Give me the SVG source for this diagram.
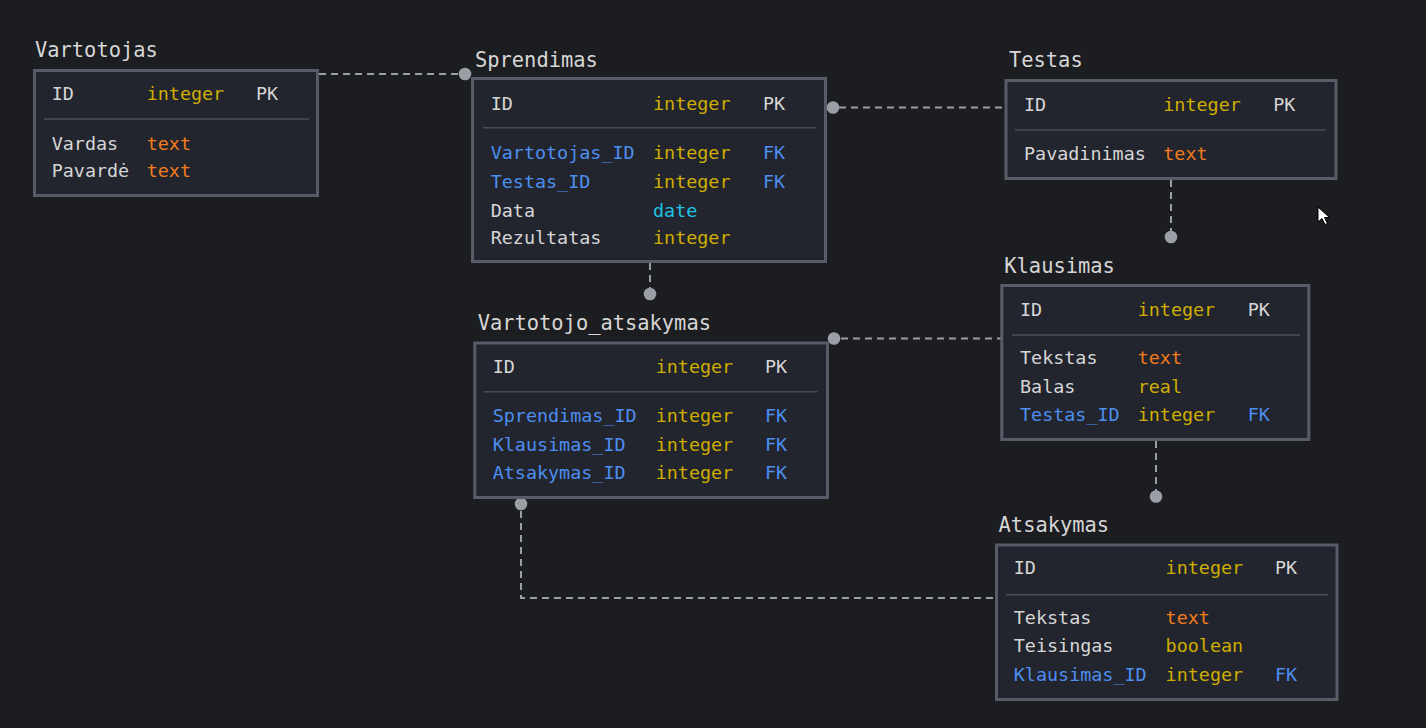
<svg xmlns="http://www.w3.org/2000/svg" width="1426" height="728" viewBox="0 0 1426 728">
<style>
.box{fill:#22252d;stroke:#595c68;stroke-width:3}
.sep{stroke:#494c56;stroke-width:1.5}
.title{font-family:"DejaVu Sans Mono","Liberation Mono",monospace;font-size:20.4px;fill:#d6d6d6}
.t{font-family:"DejaVu Sans Mono","Liberation Mono",monospace;font-size:18.4px}
.w{fill:#d6d6d6}
.b{fill:#4d8ef0}
.y{fill:#cfae00}
.o{fill:#f27b1c}
.c{fill:#1fc2e4}
.con{fill:none;stroke:#9c9ea5;stroke-width:2;stroke-dasharray:7 5}
.dot{fill:#9c9ea5}
</style>
<rect width="1426" height="728" fill="#1c1d21"/>
<g id="connectors">
<line class="con" x1="319" y1="74" x2="465" y2="74"/>
<circle class="dot" cx="465" cy="74" r="6.3"/>
<line class="con" x1="827" y1="107.5" x2="1005" y2="107.5"/>
<circle class="dot" cx="833" cy="107.5" r="6.3"/>
<line class="con" x1="1171" y1="180" x2="1171" y2="237"/>
<circle class="dot" cx="1171" cy="237" r="6.3"/>
<line class="con" x1="650" y1="263" x2="650" y2="294"/>
<circle class="dot" cx="650" cy="294" r="6.3"/>
<line class="con" x1="829" y1="338.5" x2="1001" y2="338.5"/>
<circle class="dot" cx="834" cy="338.5" r="6.3"/>
<line class="con" x1="1156" y1="441" x2="1156" y2="496.5"/>
<circle class="dot" cx="1156" cy="496.5" r="6.3"/>
<path class="con" d="M521 499 V598 H995"/>
<circle class="dot" cx="521" cy="504" r="6.3"/>
</g>
<g id="Vartotojas">
<text class="title" x="35" y="56.7">Vartotojas</text>
<rect class="box" x="34.5" y="70.5" width="283" height="125"/>
<line class="sep" x1="44" y1="119" x2="309" y2="119"/>
<g class="t">
<text class="w" x="51.7" y="100">ID</text><text class="y" x="146.7" y="100">integer</text><text class="w" x="256" y="100">PK</text>
<text class="w" x="51.7" y="150">Vardas</text><text class="o" x="146.7" y="150">text</text>
<text class="w" x="51.7" y="177">Pavardė</text><text class="o" x="146.7" y="177">text</text>
</g>
</g>
<g id="Sprendimas">
<text class="title" x="475" y="66.7">Sprendimas</text>
<rect class="box" x="472.5" y="78.5" width="353" height="183"/>
<line class="sep" x1="483" y1="127.7" x2="816" y2="127.7"/>
<g class="t">
<text class="w" x="490.7" y="110">ID</text><text class="y" x="653" y="110">integer</text><text class="w" x="763" y="110">PK</text>
<text class="b" x="490.7" y="159">Vartotojas_ID</text><text class="y" x="653" y="159">integer</text><text class="b" x="763" y="159">FK</text>
<text class="b" x="490.7" y="187.7">Testas_ID</text><text class="y" x="653" y="187.7">integer</text><text class="b" x="763" y="187.7">FK</text>
<text class="w" x="490.7" y="216.7">Data</text><text class="c" x="653" y="216.7">date</text>
<text class="w" x="490.7" y="244.3">Rezultatas</text><text class="y" x="653" y="244.3">integer</text>
</g>
</g>
<g id="Testas">
<text class="title" x="1009" y="66.7">Testas</text>
<rect class="box" x="1006" y="80.5" width="330" height="98"/>
<line class="sep" x1="1015" y1="130" x2="1326" y2="130"/>
<g class="t">
<text class="w" x="1024" y="110.7">ID</text><text class="y" x="1163.3" y="110.7">integer</text><text class="w" x="1273.3" y="110.7">PK</text>
<text class="w" x="1024" y="160">Pavadinimas</text><text class="o" x="1163.3" y="160">text</text>
</g>
</g>
<g id="Vartotojo_atsakymas">
<text class="title" x="477.7" y="330">Vartotojo_atsakymas</text>
<rect class="box" x="474.8" y="343" width="352.7" height="154.5"/>
<line class="sep" x1="484" y1="391.7" x2="817.3" y2="391.7"/>
<g class="t">
<text class="w" x="492.7" y="372.7">ID</text><text class="y" x="655.7" y="372.7">integer</text><text class="w" x="765" y="372.7">PK</text>
<text class="b" x="492.7" y="421.7">Sprendimas_ID</text><text class="y" x="655.7" y="421.7">integer</text><text class="b" x="765" y="421.7">FK</text>
<text class="b" x="492.7" y="450.7">Klausimas_ID</text><text class="y" x="655.7" y="450.7">integer</text><text class="b" x="765" y="450.7">FK</text>
<text class="b" x="492.7" y="479.3">Atsakymas_ID</text><text class="y" x="655.7" y="479.3">integer</text><text class="b" x="765" y="479.3">FK</text>
</g>
</g>
<g id="Klausimas">
<text class="title" x="1004.3" y="272.7">Klausimas</text>
<rect class="box" x="1001.8" y="285.5" width="307" height="154"/>
<line class="sep" x1="1012" y1="335" x2="1300" y2="335"/>
<g class="t">
<text class="w" x="1020" y="315.7">ID</text><text class="y" x="1137.7" y="315.7">integer</text><text class="w" x="1247.7" y="315.7">PK</text>
<text class="w" x="1020" y="364.3">Tekstas</text><text class="o" x="1137.7" y="364.3">text</text>
<text class="w" x="1020" y="392.7">Balas</text><text class="y" x="1137.7" y="392.7">real</text>
<text class="b" x="1020" y="421">Testas_ID</text><text class="y" x="1137.7" y="421">integer</text><text class="b" x="1247.7" y="421">FK</text>
</g>
</g>
<g id="Atsakymas">
<text class="title" x="998.6" y="531.7">Atsakymas</text>
<rect class="box" x="996.5" y="545" width="340.5" height="154.5"/>
<line class="sep" x1="1006" y1="594.7" x2="1328" y2="594.7"/>
<g class="t">
<text class="w" x="1013.8" y="574">ID</text><text class="y" x="1165.6" y="574">integer</text><text class="w" x="1275" y="574">PK</text>
<text class="w" x="1013.8" y="624">Tekstas</text><text class="o" x="1165.6" y="624">text</text>
<text class="w" x="1013.8" y="652">Teisingas</text><text class="y" x="1165.6" y="652">boolean</text>
<text class="b" x="1013.8" y="680.7">Klausimas_ID</text><text class="y" x="1165.6" y="680.7">integer</text><text class="b" x="1275" y="680.7">FK</text>
</g>
</g>
<polygon points="1318,207 1318,222 1322,218.5 1325,224.5 1327.5,223.5 1324.5,217.5 1329.5,217.5" fill="#ffffff" stroke="#000000" stroke-width="1"/>
</svg>
